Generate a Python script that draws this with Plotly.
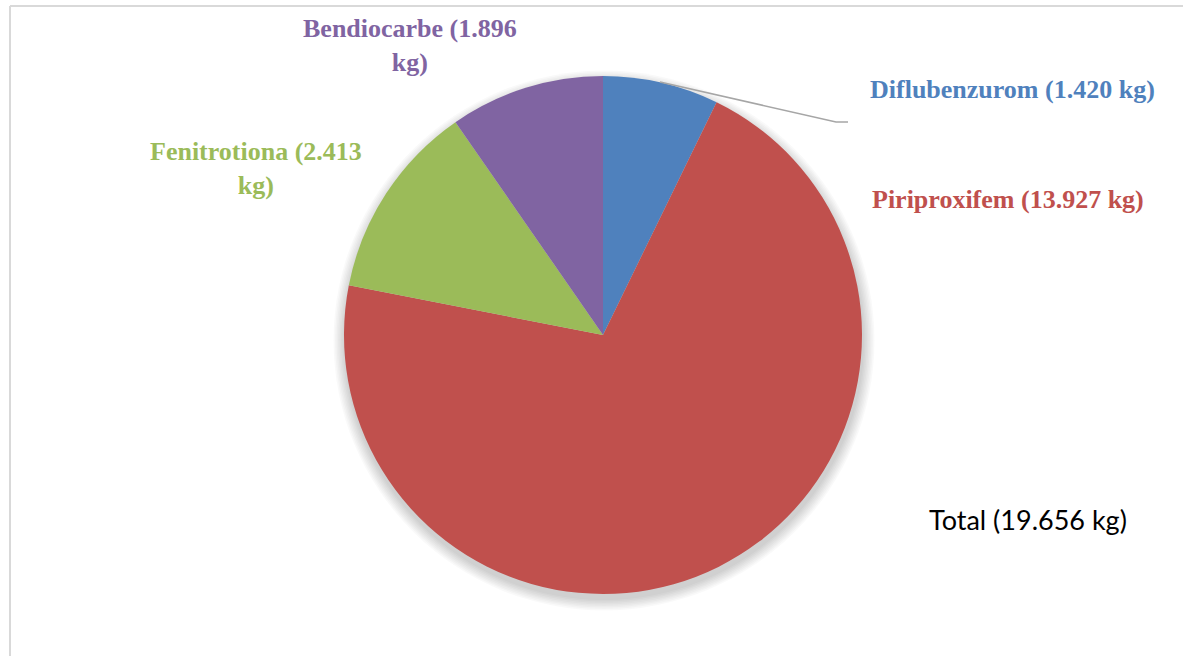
import plotly.graph_objects as go

# Inseticidas utilizados (kg), em ordem horária a partir das 12 horas
produtos = ["Diflubenzurom", "Piriproxifem", "Fenitrotiona", "Bendiocarbe"]
quantidades_kg = [1.420, 13.927, 2.413, 1.896]
cores = ["#4F81BD", "#C0504D", "#9BBB59", "#8064A2"]
total_kg = 19.656

W, H = 1183, 656
cx, cy, r = 603, 335, 259  # pie centre and radius in pixels


def px(x):
    return x / W


def py(y):
    return 1 - y / H


fig = go.Figure()
fig.add_trace(go.Pie(
    labels=produtos,
    values=quantidades_kg,
    sort=False,
    direction="clockwise",
    rotation=0,
    marker=dict(colors=cores, line=dict(width=0)),
    textinfo="none",
    hoverinfo="label+value",
    showlegend=False,
    domain=dict(x=[px(cx - r), px(cx + r)], y=[py(cy + r), py(cy - r)]),
))


def fmt(v):
    return f"{v:.3f}"


label_font = "Liberation Serif, Times New Roman, serif"
# label text, anchor position (px), colour index
rotulos = [
    (f"<b>{produtos[0]} ({fmt(quantidades_kg[0])} kg)</b>", 1012, 89, 0),
    (f"<b>{produtos[1]} ({fmt(quantidades_kg[1])} kg)</b>", 1008, 199, 1),
    (f"<b>{produtos[2]} ({fmt(quantidades_kg[2])}<br>kg)</b>", 256, 168, 2),
    (f"<b>{produtos[3]} ({fmt(quantidades_kg[3])}<br>kg)</b>", 410, 46, 3),
]
annotations = []
for txt, x, y, i in rotulos:
    annotations.append(dict(
        text=txt, x=px(x), y=py(y), xref="paper", yref="paper",
        xanchor="center", yanchor="middle", showarrow=False, align="center",
        font=dict(family=label_font, size=26, color=cores[i]),
    ))
annotations.append(dict(
    text=f"Total ({fmt(total_kg)} kg)", x=px(1028), y=py(519),
    xref="paper", yref="paper", xanchor="center", yanchor="middle",
    showarrow=False, font=dict(family="Lato", size=27, color="#000000"),
))

shapes = []
# soft shadow beneath the pie
for k in range(8):
    grow = 1 + k * 1.5
    shapes.append(dict(
        type="circle", xref="paper", yref="paper", layer="below",
        x0=px(cx - r - grow + 1), x1=px(cx + r + grow + 1),
        y0=py(cy + r + grow + 5), y1=py(cy - r - grow + 6),
        fillcolor="rgba(0,0,0,0.025)", line=dict(width=0),
    ))
# leader line for the small blue slice
shapes.append(dict(
    type="path", xref="paper", yref="paper",
    path=f"M {px(660)} {py(82)} L {px(836)} {py(122)} L {px(848)} {py(122)}",
    line=dict(color="#A6A6A6", width=1.5),
))
# chart frame
shapes.append(dict(type="line", xref="paper", yref="paper",
                   x0=px(10), x1=1, y0=py(6), y1=py(6),
                   line=dict(color="#D9D9D9", width=2)))
shapes.append(dict(type="line", xref="paper", yref="paper",
                   x0=px(10), x1=px(10), y0=0, y1=py(6),
                   line=dict(color="#D9D9D9", width=2)))

fig.update_layout(
    width=W, height=H,
    margin=dict(l=0, r=0, t=0, b=0),
    paper_bgcolor="white",
    plot_bgcolor="white",
    annotations=annotations,
    shapes=shapes,
)

fig.write_html("out.html", config=dict(displayModeBar=False))
